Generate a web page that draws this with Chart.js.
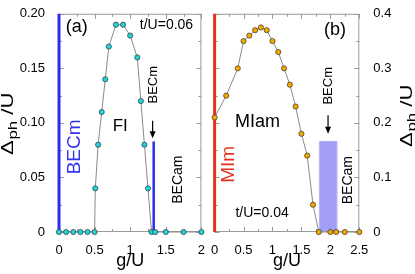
<!DOCTYPE html>
<html lang="en">
<head>
<meta charset="UTF-8">
<title>Photon gap vs g/U</title>
<style>
  body { margin: 0; background: #fff; }
  .wrap { position: relative; width: 415px; height: 274px; }
  #chartA { position: absolute; left: 0; top: 0; }
  #chartB { position: absolute; left: 208px; top: 0; }
</style>
</head>
<body>
<div class="wrap">
  <canvas id="chartA" width="208" height="274"></canvas>
  <canvas id="chartB" width="207" height="274"></canvas>
</div>
<script src="https://cdn.jsdelivr.net/npm/chart.js"></script>
<script>
// panel (a), t/U = 0.06
const gA = [0, 0.1, 0.2, 0.3, 0.4, 0.5, 0.51, 0.55, 0.6, 0.65, 0.7, 0.8, 0.9, 1.0, 1.1, 1.15, 1.2, 1.25, 1.3, 1.35, 1.5, 1.75, 2.0];
const gapA = [0, 0, 0, 0, 0, 0, 0.04, 0.08, 0.11, 0.14, 0.17, 0.19, 0.19, 0.18, 0.16, 0.12, 0.08, 0.04, 0, 0, 0, 0, 0];
const xTicksA = ['0', '0.5', '1', '1.5', '2'];
const yTicksA = ['0', '0.05', '0.10', '0.15', '0.20'];
const becmEdgeA = [[0, 0], [0, 0.2]];
const becamEdgeA = [[1.33, 0], [1.33, 0.083]];

// panel (b), t/U = 0.04
const gB = [0, 0.2, 0.4, 0.5, 0.6, 0.7, 0.8, 0.9, 1.0, 1.1, 1.2, 1.3, 1.4, 1.5, 1.6, 1.7, 1.8, 2.0, 2.1, 2.25, 2.5];
const gapB = [0.21, 0.25, 0.30, 0.35, 0.36, 0.37, 0.375, 0.37, 0.35, 0.33, 0.30, 0.27, 0.23, 0.18, 0.14, 0.05, 0, 0, 0, 0, 0];
const xTicksB = ['0', '0.5', '1', '1.5', '2', '2.5'];
const yTicksB = ['0', '0.1', '0.2', '0.3', '0.4'];
const mimEdgeB = [[0, 0], [0, 0.4]];
const becamBandB = [[1.81, 0], [1.81, 0.166], [2.11, 0.166], [2.11, 0]];

const FONT = "'Liberation Sans', Arial, sans-serif";
const toXY = (xs, ys) => xs.map((x, i) => ({ x: x, y: ys[i] }));
const pairs = p => p.map(d => ({ x: d[0], y: d[1] }));

// frame with inward ticks on all four sides, then text labels / arrows
const panelDecor = {
  id: 'panel',
  beforeDatasetsDraw(chart, args, o) {
    const ctx = chart.ctx;
    const { left, right, top, bottom } = chart.chartArea;
    const xs = chart.scales.x, ys = chart.scales.y;
    ctx.save();
    ctx.strokeStyle = '#9a9a9a';
    ctx.lineWidth = 1;
    ctx.strokeRect(left + 0.5, top + 0.5, right - left - 1, bottom - top - 1);
    ctx.beginPath();
    for (let v = xs.min; v <= xs.max + 1e-9; v += o.xMinor) {
      const px = Math.round(xs.getPixelForValue(v)) + 0.5;
      const len = Math.abs(v / o.xMajor - Math.round(v / o.xMajor)) < 1e-6 ? 5 : 3;
      ctx.moveTo(px, bottom); ctx.lineTo(px, bottom - len);
      ctx.moveTo(px, top); ctx.lineTo(px, top + len);
    }
    for (let v = ys.min; v <= ys.max + 1e-9; v += o.yMinor) {
      const py = Math.round(ys.getPixelForValue(v)) + 0.5;
      const len = Math.abs(v / o.yMajor - Math.round(v / o.yMajor)) < 1e-6 ? 5 : 3;
      ctx.moveTo(left, py); ctx.lineTo(left + len, py);
      ctx.moveTo(right, py); ctx.lineTo(right - len, py);
    }
    ctx.stroke();
    ctx.restore();
  },
  afterDatasetsDraw(chart, args, o) {
    const ctx = chart.ctx;
    const xs = chart.scales.x, ys = chart.scales.y;
    ctx.save();
    o.notes.forEach(n => {
      ctx.save();
      ctx.translate(xs.getPixelForValue(n.x), ys.getPixelForValue(n.y));
      if (n.rot) ctx.rotate(-Math.PI / 2);
      ctx.font = n.size + 'px ' + FONT;
      ctx.fillStyle = n.color || '#000';
      ctx.textAlign = 'center';
      ctx.textBaseline = 'middle';
      ctx.fillText(n.text, 0, 0);
      ctx.restore();
    });
    o.arrows.forEach(a => {
      const px = xs.getPixelForValue(a.x);
      const y0 = ys.getPixelForValue(a.from), y1 = ys.getPixelForValue(a.to);
      ctx.strokeStyle = '#000';
      ctx.fillStyle = '#000';
      ctx.lineWidth = 1.2;
      ctx.beginPath();
      ctx.moveTo(px, y0); ctx.lineTo(px, y1 - 5);
      ctx.stroke();
      ctx.beginPath();
      ctx.moveTo(px - 3, y1 - 7); ctx.lineTo(px + 3, y1 - 7); ctx.lineTo(px, y1);
      ctx.closePath();
      ctx.fill();
    });
    // y title with subscript, a bit stretched along the text like the original
    const t = o.yTitle;
    ctx.translate(t.x, t.y);
    ctx.rotate(-Math.PI / 2);
    ctx.scale(1.3, 1);
    ctx.fillStyle = '#000';
    ctx.textAlign = 'left';
    ctx.textBaseline = 'alphabetic';
    ctx.font = '17px ' + FONT;
    ctx.fillText('\u0394', 0, 0);
    let w = ctx.measureText('\u0394').width + 0.5;
    ctx.font = '13px ' + FONT;
    ctx.fillText('ph', w, 4);
    w += ctx.measureText('ph').width;
    ctx.font = '17px ' + FONT;
    ctx.fillText(' /U', w, 0);
    ctx.restore();
  }
};

function makeChart(id, cfg) {
  return new Chart(document.getElementById(id), {
    type: 'line',
    data: { datasets: cfg.datasets },
    options: {
      responsive: false,
      animation: false,
      devicePixelRatio: 1,
      layout: { padding: cfg.padding },
      plugins: { legend: { display: false }, tooltip: { enabled: false }, panel: cfg.decor },
      elements: { line: { tension: 0 } },
      scales: {
        x: {
          type: 'linear', min: 0, max: cfg.xMax,
          grid: { display: false }, border: { display: false },
          ticks: {
            stepSize: 0.5, padding: 3, color: '#000',
            font: { family: FONT, size: 13 },
            callback: (v, i) => cfg.xLabels[i]
          },
          title: { display: true, text: 'g/U', color: '#000', font: { family: FONT, size: 18 }, padding: { top: 0, bottom: 2 } },
          afterFit: s => { s.height = 42; }
        },
        y: {
          type: 'linear', position: cfg.yPos, min: 0, max: cfg.yMax,
          grid: { display: false }, border: { display: false },
          ticks: {
            stepSize: cfg.yStep, padding: 6, color: '#000',
            font: { family: FONT, size: 13 },
            callback: (v, i) => cfg.yLabels[i]
          },
          afterFit: s => { s.width = cfg.yWidth; }
        }
      }
    },
    plugins: [panelDecor]
  });
}

const dotStyle = { borderColor: '#8a8a8a', borderWidth: 1, pointRadius: 2.6, pointBorderColor: '#333', pointBorderWidth: 0.7, clip: false };

makeChart('chartA', {
  xMax: 2, yMax: 0.2, yStep: 0.05, yPos: 'left', yWidth: 59,
  xLabels: xTicksA, yLabels: yTicksA,
  padding: { left: 0, right: 5, top: 10, bottom: 0 },
  datasets: [
    Object.assign({ data: toXY(gA, gapA), pointBackgroundColor: '#22d3dc' }, dotStyle),
    { data: pairs(becmEdgeA), borderColor: '#2b2bf0', borderWidth: 3, pointRadius: 0, clip: false },
    { data: pairs(becamEdgeA), borderColor: '#2b2bf0', borderWidth: 2.5, pointRadius: 0 }
  ],
  decor: {
    xMinor: 0.25, xMajor: 0.5, yMinor: 0.025, yMajor: 0.05,
    yTitle: { x: 13, y: 155 },
    notes: [
      { text: '(a)', x: 0.25, y: 0.188, size: 18 },
      { text: 't/U=0.06', x: 1.51, y: 0.19, size: 14 },
      { text: 'FI', x: 0.86, y: 0.097, size: 17 },
      { text: 'BECm', x: 0.22, y: 0.078, size: 19, color: '#3333ee', rot: true },
      { text: 'BECm', x: 1.32, y: 0.135, size: 13, rot: true },
      { text: 'BECam', x: 1.68, y: 0.048, size: 14, rot: true }
    ],
    arrows: [{ x: 1.315, from: 0.102, to: 0.086 }]
  }
});

makeChart('chartB', {
  xMax: 2.5, yMax: 0.4, yStep: 0.1, yPos: 'right', yWidth: 55.7,
  xLabels: xTicksB, yLabels: yTicksB,
  padding: { left: 5.3, right: 0, top: 9.5, bottom: 0 },
  datasets: [
    Object.assign({ data: toXY(gB, gapB), pointBackgroundColor: '#f2a800' }, dotStyle),
    { data: pairs(mimEdgeB), borderColor: '#e5321e', borderWidth: 3, pointRadius: 0, clip: false },
    { data: pairs(becamBandB), borderColor: '#b4b1f7', borderWidth: 1, backgroundColor: '#a29ef5', fill: 'origin', pointRadius: 0 }
  ],
  decor: {
    xMinor: 0.25, xMajor: 0.5, yMinor: 0.05, yMajor: 0.1,
    yTitle: { x: 204, y: 147 },
    notes: [
      { text: '(b)', x: 2.08, y: 0.37, size: 18 },
      { text: 'MIam', x: 0.74, y: 0.201, size: 18 },
      { text: 'MIm', x: 0.25, y: 0.124, size: 19, color: '#e5321e', rot: true },
      { text: 't/U=0.04', x: 0.82, y: 0.034, size: 14 },
      { text: 'BECm', x: 1.96, y: 0.268, size: 13, rot: true },
      { text: 'BECam', x: 2.30, y: 0.095, size: 14, rot: true }
    ],
    arrows: [{ x: 1.96, from: 0.214, to: 0.18 }]
  }
});
</script>
</body>
</html>
